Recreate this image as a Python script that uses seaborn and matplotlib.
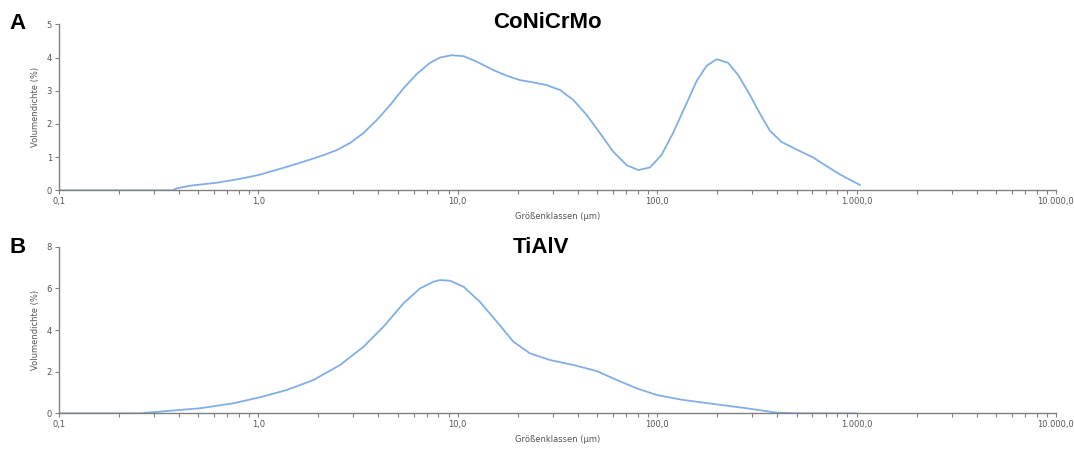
import numpy as np
import pandas as pd
import matplotlib
matplotlib.use("Agg")
import matplotlib.pyplot as plt
import matplotlib.ticker as mticker
import seaborn as sns

# Particle size distribution values (size in µm, volume density in %)
conicrmo_size = [0.10, 0.20, 0.30, 0.37, 0.39, 0.455, 0.62, 0.78, 1.0, 1.34, 1.68, 2.12, 2.47,
                 2.89, 3.37, 3.93, 4.58, 5.34, 6.22, 7.26, 8.15, 9.33, 10.7, 12.4, 15.1,
                 17.6, 20.5, 23.9, 27.9, 32.6, 38.0, 44.3, 51.7, 60.3, 70.3, 80.4, 92.0,
                 105, 120, 138, 158, 177, 199, 227, 255, 292, 327, 367, 420, 500, 606,
                 707, 825, 1040]
conicrmo_vol = [0.0, 0.0, 0.0, 0.0, 0.06, 0.14, 0.23, 0.33, 0.46, 0.68, 0.86, 1.06, 1.21,
                1.43, 1.73, 2.12, 2.57, 3.07, 3.50, 3.84, 4.00, 4.07, 4.04, 3.88, 3.62,
                3.45, 3.32, 3.25, 3.17, 3.02, 2.72, 2.27, 1.72, 1.16, 0.76, 0.61, 0.69,
                1.06, 1.72, 2.52, 3.30, 3.75, 3.95, 3.84, 3.47, 2.87, 2.32, 1.80, 1.46,
                1.23, 0.99, 0.73, 0.48, 0.16]

tialv_size = [0.10, 0.18, 0.255, 0.348, 0.51, 0.75, 1.02, 1.39, 1.89, 2.57, 3.37, 4.24,
              5.34, 6.47, 7.55, 8.15, 9.14, 10.7, 12.9, 15.7, 19.0, 23.0, 29.0, 38.0,
              49.8, 62.7, 78.9, 99.4, 135, 191, 281, 397, 500, 700, 1000]
tialv_vol = [0.0, 0.0, 0.0, 0.11, 0.24, 0.48, 0.77, 1.12, 1.60, 2.32, 3.20, 4.16,
             5.28, 6.00, 6.32, 6.40, 6.37, 6.08, 5.36, 4.40, 3.44, 2.88, 2.56, 2.32,
             2.03, 1.60, 1.20, 0.88, 0.64, 0.45, 0.24, 0.03, 0.0, 0.0, 0.0]

titles = ["CoNiCrMo", "TiAlV"]
letters = ["A", "B"]
y_ticks = [[0, 1, 2, 3, 4, 5], [0, 2, 4, 6, 8]]
x_ticks = [0.1, 1, 10, 100, 1000, 10000]

sns.set_style("ticks")
plt.rcParams["font.family"] = ["DejaVu Sans"]

line_color = "#82aee6"
axis_color = "#808080"
text_color = "#555555"


def german_label(v, pos=None):
    s = f"{v:,.1f}"
    return s.replace(",", "#").replace(".", ",").replace("#", ".")


fig = plt.figure(figsize=(10.74, 4.5), dpi=100)
ax_top = fig.add_axes([0.0549, 0.577, 0.9283, 0.369])
ax_bot = fig.add_axes([0.0549, 0.0816, 0.9283, 0.370])

datasets = [
    pd.DataFrame({"size": conicrmo_size, "vol": conicrmo_vol}),
    pd.DataFrame({"size": tialv_size, "vol": tialv_vol}),
]

for i, ax in enumerate([ax_top, ax_bot]):
    sns.lineplot(data=datasets[i], x="size", y="vol", ax=ax, color=line_color,
                 linewidth=1.3, sort=False)
    ax.set_xscale("log")
    ax.set_xlim(0.1, 10000)
    ax.set_ylim(0, y_ticks[i][-1])
    ax.set_yticks(y_ticks[i])
    ax.set_xticks(x_ticks)
    ax.xaxis.set_major_formatter(mticker.FuncFormatter(german_label))
    ax.xaxis.set_minor_locator(mticker.LogLocator(base=10, subs=np.arange(2, 10)))
    ax.xaxis.set_minor_formatter(mticker.NullFormatter())
    sns.despine(ax=ax)
    for side in ["left", "bottom"]:
        ax.spines[side].set_color(axis_color)
        ax.spines[side].set_linewidth(1.0)
    ax.tick_params(axis="both", which="major", colors=axis_color, labelcolor=text_color,
                   labelsize=6, length=3, width=0.8, pad=2)
    ax.tick_params(axis="x", which="minor", colors=axis_color, length=3, width=0.8)
    ax.set_xlabel("Größenklassen (µm)", fontsize=6, color=text_color, labelpad=4)
    ax.set_ylabel("Volumendichte (%)", fontsize=6, color=text_color, labelpad=5)

bold_font = ["Liberation Sans", "DejaVu Sans"]
fig.text(0.5098, 0.949, titles[0], ha="center", va="center", fontsize=16,
         fontweight="bold", color="black", family=bold_font)
fig.text(0.5037, 0.449, titles[1], ha="center", va="center", fontsize=16,
         fontweight="bold", color="black", family=bold_font)
fig.text(0.009, 0.947, letters[0], ha="left", va="center", fontsize=16,
         fontweight="bold", color="black", family=bold_font)
fig.text(0.009, 0.449, letters[1], ha="left", va="center", fontsize=16,
         fontweight="bold", color="black", family=bold_font)

fig.savefig("out.png", dpi=100)
